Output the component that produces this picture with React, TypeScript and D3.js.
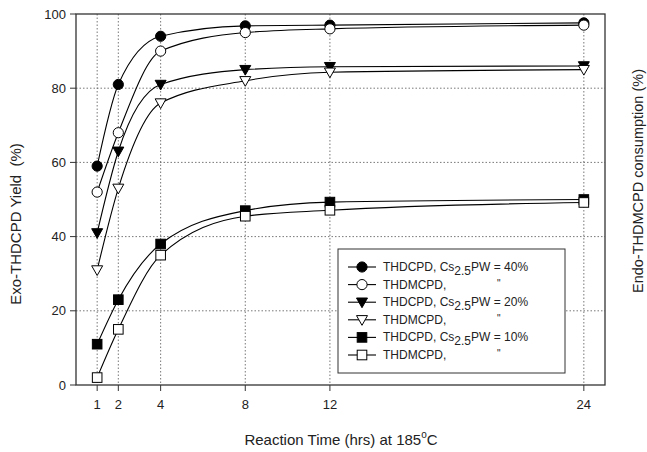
import React from 'react';
import * as d3 from 'd3';

const hours = [1, 2, 4, 8, 12, 24];
const xTicks = [1, 2, 4, 8, 12, 24];
const yTicks = [0, 20, 40, 60, 80, 100];

const thdcpd40 = [59, 81, 94, 96.8, 97, 97.6];
const thdmcpd40 = [52, 68, 90, 95, 96, 97];
const thdcpd20 = [41, 63, 81, 85, 85.8, 86];
const thdmcpd20 = [31, 53, 76, 82, 84.3, 85];
const thdcpd10 = [11, 23, 38, 47, 49.3, 50];
const thdmcpd10 = [2, 15, 35, 45.5, 47.1, 49.2];

const seriesList = [
  { name: 'THDCPD, ', sub: true, pct: '40%', values: thdcpd40, shape: 'circle', filled: true },
  { name: 'THDMCPD,', sub: false, pct: '', values: thdmcpd40, shape: 'circle', filled: false },
  { name: 'THDCPD, ', sub: true, pct: '20%', values: thdcpd20, shape: 'tri', filled: true },
  { name: 'THDMCPD,', sub: false, pct: '', values: thdmcpd20, shape: 'tri', filled: false },
  { name: 'THDCPD, ', sub: true, pct: '10%', values: thdcpd10, shape: 'square', filled: true },
  { name: 'THDMCPD,', sub: false, pct: '', values: thdmcpd10, shape: 'square', filled: false },
];

const FONT = 'Liberation Sans, Arial, sans-serif';

const Marker = ({ shape, filled, x, y }: { shape: string; filled: boolean; x: number; y: number }) => {
  const fill = filled ? '#000' : '#fff';
  if (shape === 'circle') return <circle cx={x} cy={y} r={5.1} fill={fill} stroke="#000" strokeWidth={1} />;
  if (shape === 'square') return <rect x={x - 4.8} y={y - 4.8} width={9.6} height={9.6} fill={fill} stroke="#000" strokeWidth={1} />;
  return <path d={`M${x - 5.5},${y - 4.2}L${x + 5.5},${y - 4.2}L${x},${y + 5.5}Z`} fill={fill} stroke="#000" strokeWidth={1} />;
};

const App = () => {
  const left = 76, right = 605, top = 14, bottom = 385;
  const x = d3.scaleLinear().domain([0, 25]).range([left, right]);
  const y = d3.scaleLinear().domain([0, 100]).range([bottom, top]);
  const line = d3.line<number>()
    .x((_, i) => x(hours[i]))
    .y(d => y(d))
    .curve(d3.curveMonotoneX);

  const legX = 338, legY = 249, legW = 227, legH = 124;

  return (
    <svg width={647} height={452} style={{ position: 'absolute', left: 0, top: 0 }} fontFamily={FONT}>
      {/* grid */}
      {xTicks.map(t => (
        <line key={'gx' + t} x1={x(t)} x2={x(t)} y1={top} y2={bottom} stroke="#555" strokeWidth={0.8} strokeDasharray="1.5,2" />
      ))}
      {yTicks.slice(1, -1).map(t => (
        <line key={'gy' + t} x1={left} x2={right} y1={y(t)} y2={y(t)} stroke="#555" strokeWidth={0.8} strokeDasharray="1.5,2" />
      ))}
      {/* curves */}
      {seriesList.map((s, i) => (
        <path key={'l' + i} d={line(s.values) || ''} fill="none" stroke="#000" strokeWidth={1.1} />
      ))}
      {seriesList.map((s, i) => s.values.map((v, j) => (
        <Marker key={`m${i}-${j}`} shape={s.shape} filled={s.filled} x={x(hours[j])} y={y(v)} />
      )))}
      {/* frame */}
      <rect x={left} y={top} width={right - left} height={bottom - top} fill="none" stroke="#333" strokeWidth={1.3} />
      {/* y axis */}
      {yTicks.map(t => (
        <g key={'yt' + t}>
          <line x1={left - 6} x2={left} y1={y(t)} y2={y(t)} stroke="#333" strokeWidth={1} />
          <text x={left - 10} y={y(t) + 4.5} fontSize={13} textAnchor="end" fill="#222">{t}</text>
        </g>
      ))}
      {/* x axis */}
      {xTicks.map(t => (
        <g key={'xt' + t}>
          <line x1={x(t)} x2={x(t)} y1={bottom} y2={bottom + 6} stroke="#333" strokeWidth={1} />
          <text x={x(t)} y={bottom + 24} fontSize={13} textAnchor="middle" fill="#222">{t}</text>
        </g>
      ))}
      <text x={341} y={445} fontSize={15} textAnchor="middle" fill="#222">
        Reaction Time (hrs) at 185<tspan fontSize={10} dy={-7}>o</tspan><tspan dy={7}>C</tspan>
      </text>
      <text transform="translate(21,224) rotate(-90)" fontSize={15} textAnchor="middle" fill="#222">
        Exo-THDCPD Yield{'\u00a0\u00a0'}(%)
      </text>
      <text transform="translate(643,181) rotate(-90)" fontSize={14.5} textAnchor="middle" fill="#222">
        Endo-THDMCPD consumption (%)
      </text>
      {/* legend */}
      <rect x={legX} y={legY} width={legW} height={legH} fill="#fff" stroke="#333" strokeWidth={1} />
      {seriesList.map((s, i) => {
        const ly = legY + 18 + i * 17.6;
        return (
          <g key={'lg' + i}>
            <line x1={348} x2={376} y1={ly} y2={ly} stroke="#000" strokeWidth={1.1} />
            <Marker shape={s.shape} filled={s.filled} x={362} y={ly} />
            <text x={383} y={ly + 4} fontSize={12} fill="#222">
              {s.name}
              {s.sub ? (
                <>
                  Cs<tspan dy={4}>2.5</tspan><tspan dy={-4}>PW = {s.pct}</tspan>
                </>
              ) : null}
            </text>
            {!s.sub ? <text x={497} y={ly + 2} fontSize={10} fill="#222">"</text> : null}
          </g>
        );
      })}
    </svg>
  );
};

export default App;
